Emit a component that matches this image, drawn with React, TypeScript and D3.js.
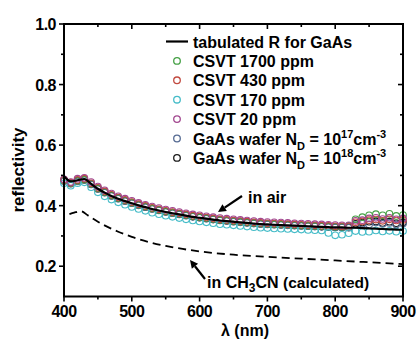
import { useEffect, useRef } from "react"
import * as d3 from "d3"

// wavelength grid of the measured points (nm)
const wavelengths = d3.range(400, 901, 10)

const tabulatedR = [
  0.497, 0.48, 0.484, 0.488, 0.472, 0.456, 0.443, 0.432, 0.423, 0.415,
  0.408, 0.401, 0.395, 0.389, 0.384, 0.379, 0.375, 0.371, 0.367, 0.363,
  0.36, 0.357, 0.354, 0.351, 0.349, 0.347, 0.345, 0.343, 0.341, 0.339,
  0.338, 0.337, 0.336, 0.335, 0.334, 0.333, 0.332, 0.331, 0.33, 0.329,
  0.328, 0.328, 0.327, 0.327, 0.326, 0.325, 0.324, 0.323, 0.322, 0.321, 0.32,
]

const csvt1700 = [
  0.483, 0.474, 0.482, 0.486, 0.472, 0.457, 0.445, 0.434, 0.425, 0.417,
  0.41, 0.403, 0.397, 0.391, 0.386, 0.381, 0.377, 0.373, 0.369, 0.365,
  0.362, 0.359, 0.356, 0.353, 0.351, 0.349, 0.347, 0.345, 0.343, 0.341,
  0.34, 0.339, 0.338, 0.337, 0.336, 0.335, 0.334, 0.333, 0.332, 0.331,
  0.33, 0.33, 0.333, 0.355, 0.362, 0.368, 0.372, 0.368, 0.373, 0.366, 0.369,
]

const csvt430 = [
  0.485, 0.476, 0.485, 0.489, 0.474, 0.459, 0.447, 0.436, 0.427, 0.419,
  0.412, 0.405, 0.399, 0.393, 0.388, 0.383, 0.379, 0.375, 0.371, 0.367,
  0.364, 0.361, 0.358, 0.355, 0.353, 0.351, 0.349, 0.347, 0.345, 0.343,
  0.342, 0.341, 0.34, 0.339, 0.338, 0.337, 0.336, 0.335, 0.334, 0.333,
  0.332, 0.332, 0.331, 0.345, 0.348, 0.352, 0.354, 0.35, 0.355, 0.351, 0.353,
]

const csvt170 = [
  0.474, 0.466, 0.474, 0.477, 0.461, 0.444, 0.431, 0.42, 0.411, 0.403,
  0.396, 0.389, 0.383, 0.377, 0.372, 0.367, 0.363, 0.359, 0.355, 0.351,
  0.348, 0.345, 0.342, 0.339, 0.337, 0.335, 0.333, 0.331, 0.329, 0.327,
  0.326, 0.325, 0.324, 0.323, 0.322, 0.321, 0.32, 0.319, 0.318, 0.31,
  0.302, 0.304, 0.309, 0.316, 0.313, 0.314, 0.318, 0.315, 0.317, 0.314, 0.316,
]

const csvt20 = [
  0.487, 0.478, 0.489, 0.492, 0.478, 0.463, 0.451, 0.44, 0.431, 0.423,
  0.416, 0.409, 0.403, 0.397, 0.392, 0.387, 0.383, 0.379, 0.375, 0.371,
  0.368, 0.365, 0.362, 0.359, 0.357, 0.355, 0.353, 0.351, 0.349, 0.347,
  0.346, 0.345, 0.344, 0.343, 0.342, 0.341, 0.34, 0.339, 0.338, 0.337,
  0.336, 0.335, 0.335, 0.35, 0.352, 0.358, 0.36, 0.356, 0.36, 0.355, 0.358,
]

const wafer17 = [
  0.481, 0.472, 0.48, 0.484, 0.47, 0.455, 0.443, 0.432, 0.423, 0.415,
  0.408, 0.401, 0.395, 0.389, 0.384, 0.379, 0.375, 0.371, 0.367, 0.363,
  0.36, 0.357, 0.354, 0.351, 0.349, 0.347, 0.345, 0.343, 0.341, 0.339,
  0.338, 0.337, 0.336, 0.335, 0.334, 0.333, 0.332, 0.331, 0.33, 0.329,
  0.328, 0.328, 0.327, 0.336, 0.34, 0.338, 0.344, 0.34, 0.343, 0.338, 0.341,
]

const wafer18 = [
  0.484, 0.475, 0.483, 0.487, 0.471, 0.456, 0.444, 0.433, 0.424, 0.416,
  0.409, 0.402, 0.396, 0.39, 0.385, 0.38, 0.376, 0.372, 0.368, 0.364,
  0.361, 0.358, 0.355, 0.352, 0.35, 0.348, 0.346, 0.344, 0.342, 0.34,
  0.339, 0.338, 0.337, 0.336, 0.335, 0.334, 0.333, 0.332, 0.331, 0.33,
  0.329, 0.329, 0.328, 0.34, 0.344, 0.347, 0.348, 0.343, 0.347, 0.342, 0.345,
]

// calculated reflectivity in CH3CN (dashed)
const ch3cnNm = [408, 415, 425, 435, 450, 465, 480, 500, 525, 550, 575, 600, 650, 700, 750, 800, 850, 900]
const ch3cnR = [0.372, 0.377, 0.382, 0.368, 0.347, 0.329, 0.314, 0.297, 0.28, 0.267, 0.257, 0.249, 0.238, 0.231, 0.225, 0.219, 0.213, 0.207]

const seriesNames = ["CSVT 1700 ppm", "CSVT 430 ppm", "CSVT 170 ppm", "CSVT 20 ppm", "GaAs wafer 1e17", "GaAs wafer 1e18"]
const seriesValues = [csvt1700, csvt430, csvt170, csvt20, wafer17, wafer18]
const seriesColors = ["#44a044", "#c24a40", "#45bcc8", "#a2478f", "#556a92", "#1a1a1a"]
// drawing order of the circle series (last on top)
const drawOrder = [5, 4, 0, 1, 2, 3]

const xTicks = [400, 500, 600, 700, 800, 900]
const xMinor = [450, 550, 650, 750, 850]
const yTicks = [0.2, 0.4, 0.6, 0.8, 1.0]
const yMinor = [0.3, 0.5, 0.7, 0.9]

export default function App() {
  const svgRef = useRef<SVGSVGElement>(null)

  useEffect(() => {
    if (!svgRef.current) return
    const svg = d3.select(svgRef.current)
    svg.selectAll("*").remove()

    const left = 64
    const right = 403
    const top = 24
    const bottom = 296.5
    const font = "'Liberation Sans', Arial, sans-serif"

    const x = d3.scaleLinear().domain([400, 900]).range([left, right])
    const y = d3.scaleLinear().domain([0.1, 1.0]).range([bottom, top])

    // circles
    drawOrder.forEach((i) => {
      svg.append("g")
        .selectAll("circle")
        .data(seriesValues[i])
        .join("circle")
        .attr("cx", (_, j) => x(wavelengths[j]))
        .attr("cy", (d) => y(d))
        .attr("r", 3.3)
        .attr("fill", "none")
        .attr("stroke", seriesColors[i])
        .attr("stroke-width", 1.1)
    })

    // tabulated line
    const line = d3
      .line<number>()
      .x((_, j) => x(wavelengths[j]))
      .y((d) => y(d))
      .curve(d3.curveMonotoneX)
    svg.append("path").datum(tabulatedR).attr("d", line).attr("fill", "none").attr("stroke", "#000").attr("stroke-width", 2.2)

    // CH3CN dashed
    const dashLine = d3
      .line<number>()
      .x((_, j) => x(ch3cnNm[j]))
      .y((d) => y(d))
      .curve(d3.curveMonotoneX)
    svg.append("path")
      .datum(ch3cnR)
      .attr("d", dashLine)
      .attr("fill", "none")
      .attr("stroke", "#000")
      .attr("stroke-width", 1.8)
      .attr("stroke-dasharray", "8,5")

    // frame
    svg.append("rect")
      .attr("x", left)
      .attr("y", top)
      .attr("width", right - left)
      .attr("height", bottom - top)
      .attr("fill", "none")
      .attr("stroke", "#000")
      .attr("stroke-width", 2)

    // ticks
    const tk = svg.append("g").attr("stroke", "#000").attr("stroke-width", 1.6)
    xTicks.forEach((t) => {
      tk.append("line").attr("x1", x(t)).attr("x2", x(t)).attr("y1", bottom).attr("y2", bottom + 5)
      tk.append("line").attr("x1", x(t)).attr("x2", x(t)).attr("y1", top).attr("y2", top + 5)
    })
    xMinor.forEach((t) => {
      tk.append("line").attr("x1", x(t)).attr("x2", x(t)).attr("y1", bottom).attr("y2", bottom + 3)
      tk.append("line").attr("x1", x(t)).attr("x2", x(t)).attr("y1", top).attr("y2", top + 3)
    })
    yTicks.forEach((t) => {
      tk.append("line").attr("x1", left - 5).attr("x2", left).attr("y1", y(t)).attr("y2", y(t))
      tk.append("line").attr("x1", right - 5).attr("x2", right).attr("y1", y(t)).attr("y2", y(t))
    })
    yMinor.forEach((t) => {
      tk.append("line").attr("x1", left - 3).attr("x2", left).attr("y1", y(t)).attr("y2", y(t))
      tk.append("line").attr("x1", right - 3).attr("x2", right).attr("y1", y(t)).attr("y2", y(t))
    })

    // tick labels
    xTicks.forEach((t) => {
      svg.append("text")
        .attr("x", x(t))
        .attr("y", 317)
        .attr("text-anchor", "middle")
        .style("font", `bold 16px ${font}`)
        .style("letter-spacing", "-0.5px")
        .text(t)
    })
    yTicks.forEach((t) => {
      svg.append("text")
        .attr("x", left - 8)
        .attr("y", y(t) + 6)
        .attr("text-anchor", "end")
        .style("font", `bold 16px ${font}`)
        .style("letter-spacing", "-0.5px")
        .text(d3.format(".1f")(t))
    })

    // axis titles
    svg.append("text")
      .attr("transform", `translate(24,170) rotate(-90)`)
      .attr("text-anchor", "middle")
      .style("font", `bold 17px ${font}`)
      .text("reflectivity")
    svg.append("text")
      .attr("x", 245)
      .attr("y", 336)
      .attr("text-anchor", "middle")
      .style("font", `bold 16px ${font}`)
      .text("λ (nm)")

    // legend
    const lx = 177
    const rowY = (i: number) => 47.5 + i * 19.4
    svg.append("line").attr("x1", lx - 11).attr("x2", lx + 11).attr("y1", rowY(0) - 6).attr("y2", rowY(0) - 6).attr("stroke", "#000").attr("stroke-width", 2.2)
    svg.append("text").attr("x", 193).attr("y", rowY(0)).style("font", `bold 16px ${font}`).text("tabulated R for GaAs")
    seriesNames.forEach((name, i) => {
      const yy = rowY(i + 1)
      svg.append("circle").attr("cx", lx).attr("cy", yy - 6).attr("r", 3.3).attr("fill", "none").attr("stroke", seriesColors[i]).attr("stroke-width", 1.3)
      const t = svg.append("text").attr("x", 193).attr("y", yy).style("font", `bold 16px ${font}`)
      if (i < 4) {
        t.text(name)
      } else {
        const exp = i === 4 ? "17" : "18"
        t.append("tspan").text("GaAs wafer N")
        t.append("tspan").attr("dy", 5).style("font-size", "11px").text("D")
        t.append("tspan").attr("dy", -5).text(" = 10")
        t.append("tspan").attr("dy", -7).style("font-size", "11px").text(exp)
        t.append("tspan").attr("dy", 7).text("cm")
        t.append("tspan").attr("dy", -7).style("font-size", "11px").text("-3")
      }
    })

    // annotations
    const arrow = (x1: number, y1: number, x2: number, y2: number) => {
      const ang = Math.atan2(y2 - y1, x2 - x1)
      const hl = 8
      const hw = 4
      const bx = x2 - hl * Math.cos(ang)
      const by = y2 - hl * Math.sin(ang)
      svg.append("line").attr("x1", x1).attr("y1", y1).attr("x2", bx).attr("y2", by).attr("stroke", "#000").attr("stroke-width", 2.2)
      svg.append("path")
        .attr("d", `M${x2},${y2}L${bx + hw * Math.sin(ang)},${by - hw * Math.cos(ang)}L${bx - hw * Math.sin(ang)},${by + hw * Math.cos(ang)}Z`)
        .attr("fill", "#000")
    }
    arrow(242, 196, 218, 212)
    svg.append("text").attr("x", 248).attr("y", 203).style("font", `bold 16px ${font}`).text("in air")

    arrow(205, 279, 190, 260)
    const ct = svg.append("text").attr("x", 207).attr("y", 288).style("font", `bold 16px ${font}`)
    ct.append("tspan").text("in CH")
    ct.append("tspan").attr("dy", 4).style("font-size", "12px").text("3")
    ct.append("tspan").attr("dy", -4).text("CN ")
    ct.append("tspan").style("font-size", "15.5px").text("(calculated)")
  }, [])

  return (
    <svg
      ref={svgRef}
      width={418}
      height={340}
      style={{ position: "absolute", left: 0, top: 0, background: "#fff" }}
    />
  )
}
